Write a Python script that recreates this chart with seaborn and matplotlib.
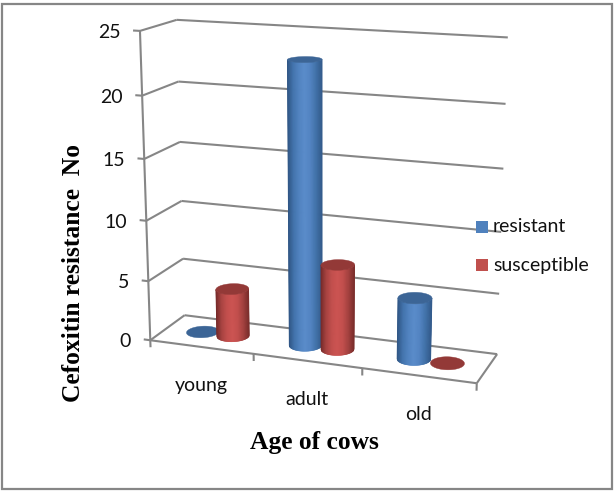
import numpy as np
import matplotlib
matplotlib.use("Agg")
import matplotlib.pyplot as plt
from matplotlib.patches import Rectangle
import seaborn as sns

# Chart data
ages = ["young", "adult", "old"]
series = ["resistant", "susceptible"]
resistant = [0, 23, 5]
susceptible = [4, 7, 0]
value_ticks = [0, 5, 10, 15, 20, 25]

sns.set_theme(style="white")
plt.rcParams["font.family"] = ["Lato", "DejaVu Sans"]

W, H = 615, 491
fig = plt.figure(figsize=(W / 100, H / 100), dpi=100, facecolor="white")
ax = fig.add_axes([0, 0, 1, 1])
ax.set_xlim(0, W)
ax.set_ylim(H, 0)
ax.axis("off")

GRID = "#868686"
DEPTH = 0.67     # floor depth, in category widths
RADIUS = 0.145
OFFSET = 0.15    # half spacing of the two columns in a category
SURFACE = {
    "resistant": dict(shades=["#2f5584", "#4374ad", "#5183c0", "#5a8cca", "#5384c2", "#4273aa", "#345c8d"],
                      cap="#3c6596", swatch="#4f81bd"),
    "susceptible": dict(shades=["#752a29", "#a94442", "#c24f4d", "#cc5452", "#c24f4d", "#a54240", "#7c2e2c"],
                        cap="#933937", swatch="#c0504d"),
}

# Camera: a projective view fitted to where the box edges sit on the canvas
view_world = np.array([
    (0, 0, 0), (3, 0, 0), (0, DEPTH, 0), (3, DEPTH, 0),
    (0, 0, 5), (0, 0, 10), (0, 0, 15), (0, 0, 20), (0, 0, 25),
    (0, DEPTH, 5), (0, DEPTH, 15), (0, DEPTH, 20), (0, DEPTH, 25),
    (3, DEPTH, 5), (3, DEPTH, 10), (3, DEPTH, 15), (3, DEPTH, 20), (3, DEPTH, 25),
], dtype=float)
view_canvas = np.array([
    (151, 340), (477, 383), (184, 315), (497, 354),
    (148, 282), (146, 220), (144, 159), (142, 96), (140, 31),
    (183, 259), (181, 142), (178, 81), (177, 20),
    (499, 294), (502, 232), (503, 169), (505, 104), (508, 37),
], dtype=float)


def fit_camera(world, canvas):
    rows = []
    for (x, y, z), (px, py) in zip(world, canvas):
        rows.append([x, y, z, 1, 0, 0, 0, 0, -px * x, -px * y, -px * z, -px])
        rows.append([0, 0, 0, 0, x, y, z, 1, -py * x, -py * y, -py * z, -py])
    return np.linalg.svd(np.array(rows))[2][-1].reshape(3, 4)


CAMERA = fit_camera(view_world, view_canvas)


def project(u, d, z):
    pts = np.stack(np.broadcast_arrays(u, d, z, 1.0), axis=-1).astype(float)
    q = pts @ CAMERA.T
    return q[..., 0] / q[..., 2], q[..., 1] / q[..., 2]


def edge(a, b, lw=1.5):
    x, y = project(*np.array([a, b]).T)
    ax.plot(x, y, color=GRID, lw=lw, solid_capstyle="butt", zorder=1)


# Floor, gridlines and ticks
edge((0, 0, 0), (3, 0, 0))
edge((3, 0, 0), (3, DEPTH, 0))
edge((0, 0, 0), (0, 0, 25))
for v in value_ticks:
    edge((-0.065, 0, v), (0, 0, v))
    edge((0, 0, v), (0, DEPTH, v))
    edge((0, DEPTH, v), (3, DEPTH, v))
    tx, ty = project(-0.065, 0, v)
    ax.text(tx - 12.5, ty + 2, str(v), ha="right", va="center", fontsize=14, color="#111111")
for i in range(len(ages) + 1):
    edge((i, 0, 0), (i, 0, -0.6))
for i, age in enumerate(ages):
    tx, ty = project(i + 0.5, 0, 0)
    ax.text(tx, ty + 39, age, ha="center", va="center", fontsize=14, color="#111111")


def front_rim(u, d, z, samples):
    """Front half of a rim, resampled evenly across its screen width."""
    angles = np.linspace(0, 2 * np.pi, 721)[:-1]
    x, y = project(u + RADIUS * np.cos(angles), d + RADIUS * np.sin(angles), z)
    start = np.argmin(x)
    x, y = np.roll(x, -start), np.roll(y, -start)
    stop = np.argmax(x)
    xa, ya = x[:stop + 1], y[:stop + 1]
    xb, yb = np.append(x[stop:], x[0]), np.append(y[stop:], y[0])
    if ya.mean() >= yb.mean():
        xf, yf = xa, ya
    else:
        xf, yf = xb[::-1], yb[::-1]
    xs = np.linspace(x.min(), x.max(), samples)
    return xs, np.interp(xs, xf, yf)


def cylinder(u, d, height, surface, z_base):
    if height > 0:
        ramp = sns.blend_palette(surface["shades"], n_colors=64)
        x0, y0 = front_rim(u, d, 0, 65)
        x1, y1 = front_rim(u, d, height, 65)
        # Vertical strips across the width give the rounded side
        for j, shade in enumerate(ramp):
            ax.fill([x0[j], x0[j + 1], x1[j + 1], x1[j]],
                    [y0[j], y0[j + 1], y1[j + 1], y1[j]],
                    facecolor=shade, edgecolor=shade, lw=0.4, zorder=z_base)
    angles = np.linspace(0, 2 * np.pi, 121)
    xc, yc = project(u + RADIUS * np.cos(angles), d + RADIUS * np.sin(angles), height)
    ax.fill(xc, yc, facecolor=surface["cap"], edgecolor=surface["cap"], lw=0.3, zorder=z_base + 0.05)


# Columns, drawn category by category so nearer ones overlap
values = {"resistant": resistant, "susceptible": susceptible}
for i in range(len(ages)):
    for k, name in enumerate(series):
        cylinder(i + 0.5 + (k - 0.5) * 2 * OFFSET, DEPTH / 2, values[name][i],
                 SURFACE[name], 2 + i + k * 0.1)

# Axis titles
serif = ["Liberation Serif", "DejaVu Serif"]
ax.text(74, 273, "Cefoxitin resistance  No", rotation=90, ha="center", va="center",
        family=serif, weight="bold", fontsize=18.4, color="black")
ax.text(314, 442, "Age of cows", ha="center", va="center",
        family=serif, weight="bold", fontsize=18.4, color="black")

# Legend
for name, y in zip(series, [226.5, 264.5]):
    ax.add_patch(Rectangle((476, y - 6), 12, 12, facecolor=SURFACE[name]["swatch"], edgecolor="none", zorder=10))
    ax.text(493, y + 0.5, name, ha="left", va="center", fontsize=14, color="#111111", zorder=10)

# Outer frame of the chart area
ax.add_patch(Rectangle((2, 3.5), 610, 485, fill=False, edgecolor="#868686", lw=1.6, zorder=11))

fig.savefig("out.png", dpi=100, facecolor="white")
